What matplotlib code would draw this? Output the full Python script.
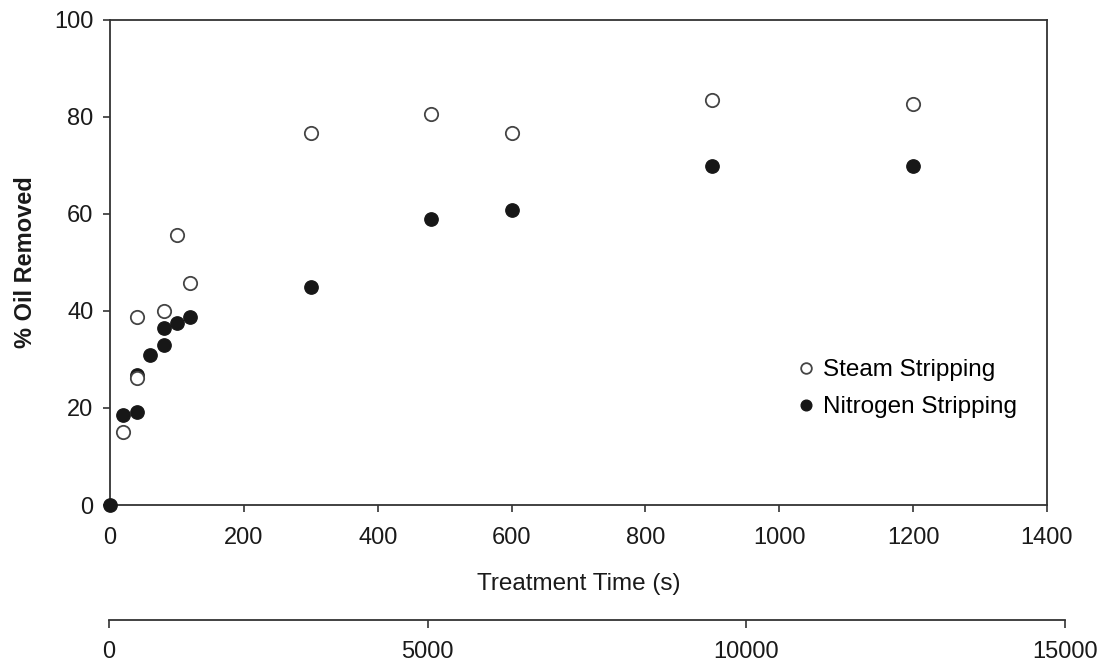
import matplotlib
matplotlib.use('Agg')
import matplotlib.pyplot as plt

plt.rcParams['font.family'] = ['Liberation Sans', 'DejaVu Sans']

# values
steam_t = [20, 40, 40, 80, 100, 120, 300, 480, 600, 900, 1200]
steam_y = [15.1, 26.2, 38.8, 39.9, 55.6, 45.7, 76.7, 80.7, 76.7, 83.6, 82.7]

n2_t = [0, 20, 40, 40, 60, 80, 80, 100, 120, 300, 480, 600, 900, 1200]
n2_y = [0, 18.5, 19.1, 26.9, 31.0, 32.9, 36.5, 37.6, 38.8, 44.9, 58.9, 60.8, 69.9, 69.9]

x_ticks = [0, 200, 400, 600, 800, 1000, 1200, 1400]
y_ticks = [0, 20, 40, 60, 80, 100]
x2_ticks = [0, 5000, 10000, 15000]

W, H = 1099, 663
fig = plt.figure(figsize=(W / 100, H / 100), dpi=100)
ax = fig.add_axes([110 / W, 1 - 505 / H, 937 / W, 485 / H])

ax.plot(n2_t, n2_y, 'o', ms=9.6, color='#171717', mec='#171717', ls='none',
        label='Nitrogen Stripping', clip_on=False, zorder=3)
ax.plot(steam_t, steam_y, 'o', ms=9.6, mfc='white', mec='#454545', mew=1.3, ls='none',
        label='Steam Stripping', clip_on=False, zorder=4)

ax.set_xlim(0, 1400)
ax.set_ylim(0, 100)
ax.set_xticks(x_ticks)
ax.set_yticks(y_ticks)
ax.tick_params(labelsize=17, length=5, width=1.2, color='#333333', labelcolor='#1a1a1a')
ax.tick_params(axis='x', pad=11)
ax.tick_params(axis='y', pad=7)
for s in ax.spines.values():
    s.set_color('#333333')
    s.set_linewidth(1.3)

ax.set_xlabel('Treatment Time (s)', fontsize=17.5, color='#1a1a1a', labelpad=17)
ax.set_ylabel('% Oil Removed', fontsize=17, fontweight='bold', color='#1a1a1a', labelpad=12)

h, l = ax.get_legend_handles_labels()
ax.legend(h[::-1], l[::-1], loc='center left', bbox_to_anchor=(0.7325, 0.24),
          frameon=False, fontsize=17.5, markerscale=0.8, handletextpad=0.3,
          handlelength=0.8, labelspacing=0.62, borderpad=0, borderaxespad=0)

# second scale below the plot
ax2 = fig.add_axes([109 / W, 1 - 620 / H, 956 / W, 0.001])
ax2.set_xlim(0, 15000)
ax2.set_xticks(x2_ticks)
ax2.set_yticks([])
ax2.patch.set_visible(False)
for k in ['top', 'left', 'right']:
    ax2.spines[k].set_visible(False)
ax2.spines['bottom'].set_color('#333333')
ax2.spines['bottom'].set_linewidth(1.3)
ax2.tick_params(labelsize=17, length=6, width=1.2, color='#333333', labelcolor='#1a1a1a', pad=9)

fig.savefig('out.png', dpi=100)
